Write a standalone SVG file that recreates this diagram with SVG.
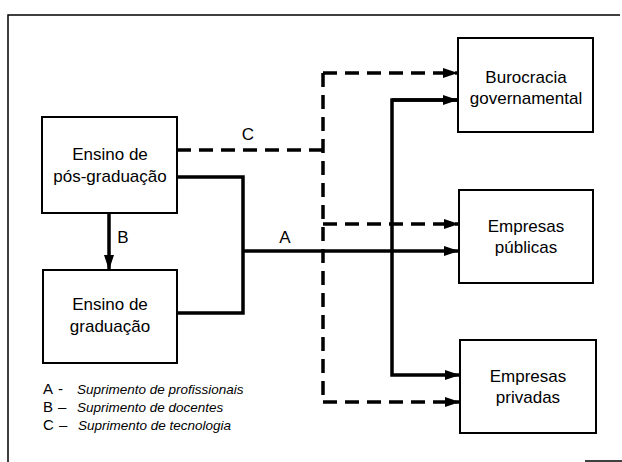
<svg xmlns="http://www.w3.org/2000/svg" width="622" height="462" viewBox="0 0 622 462">
<defs>
<style>
.box{fill:#fff;stroke:#000;stroke-width:2}
.t{font-family:"Liberation Sans",Arial,sans-serif;font-size:17px;fill:#000;text-anchor:middle}
.lbl{font-family:"Liberation Sans",Arial,sans-serif;font-size:17px;fill:#000;text-anchor:middle}
.leg{font-family:"Liberation Sans",Arial,sans-serif;font-size:15px;fill:#000}
.legi{font-family:"Liberation Sans",Arial,sans-serif;font-size:13.5px;font-style:italic;fill:#000}
.solid{fill:none;stroke:#000;stroke-width:3.5}
.dash{fill:none;stroke:#000;stroke-width:3.5;stroke-dasharray:14 8}
.frame{fill:none;stroke:#000;stroke-width:1.5}
</style>
<marker id="ah" viewBox="0 0 15 10" refX="15" refY="5" markerWidth="15" markerHeight="10" markerUnits="userSpaceOnUse" orient="auto">
<path d="M0,0 L15,5 L0,10 Z" fill="#000"/>
</marker>
</defs>
<rect width="622" height="462" fill="#fff"/>
<path class="frame" d="M8,462 V15 H620"/>
<path class="frame" d="M585,461 H622"/>
<g id="connectors">
<path class="dash" d="M177,150 H323"/>
<path class="dash" d="M323,73 V402"/>
<path class="dash" d="M323,73 H458" marker-end="url(#ah)"/>
<path class="dash" d="M323,224 H459" marker-end="url(#ah)"/>
<path class="dash" d="M323,402 H460" marker-end="url(#ah)"/>
<path class="solid" d="M177,177 H243 V313 H177"/>
<path class="solid" d="M243,251 H459" marker-end="url(#ah)"/>
<path class="solid" d="M458,100 H392 V375 H460" marker-end="url(#ah)"/>
<path class="solid" d="M392,100 H458" marker-end="url(#ah)"/>
<path class="solid" d="M109,213 V270" marker-end="url(#ah)"/>
<text class="lbl" x="248" y="140">C</text>
<text class="lbl" x="285" y="243">A</text>
<text class="lbl" x="123" y="243">B</text>
</g>
<g id="pos">
<rect class="box" x="42" y="117" width="135" height="96"/>
<text class="t" x="110" y="160">Ensino de</text>
<text class="t" x="110" y="182">pós-graduação</text>
</g>
<g id="grad">
<rect class="box" x="43" y="270" width="134" height="93"/>
<text class="t" x="110" y="310">Ensino de</text>
<text class="t" x="110" y="332">graduação</text>
</g>
<g id="buro">
<rect class="box" x="458" y="38" width="135" height="94"/>
<text class="t" x="526" y="83">Burocracia</text>
<text class="t" x="526" y="104">governamental</text>
</g>
<g id="pub">
<rect class="box" x="459" y="190" width="134" height="93"/>
<text class="t" x="526" y="232">Empresas</text>
<text class="t" x="526" y="253">públicas</text>
</g>
<g id="priv">
<rect class="box" x="460" y="340" width="136" height="93"/>
<text class="t" x="528" y="382">Empresas</text>
<text class="t" x="528" y="403">privadas</text>
</g>
<g id="legend">
<text class="leg" x="43" y="394">A</text><text class="leg" x="58" y="394">-</text>
<text class="legi" x="77" y="394">Suprimento de profissionais</text>
<text class="leg" x="43" y="412">B</text><text class="leg" x="58" y="412">–</text>
<text class="legi" x="77" y="412">Suprimento de docentes</text>
<text class="leg" x="43" y="430">C</text><text class="leg" x="59" y="430">–</text>
<text class="legi" x="78" y="430">Suprimento de tecnologia</text>
</g>
</svg>
